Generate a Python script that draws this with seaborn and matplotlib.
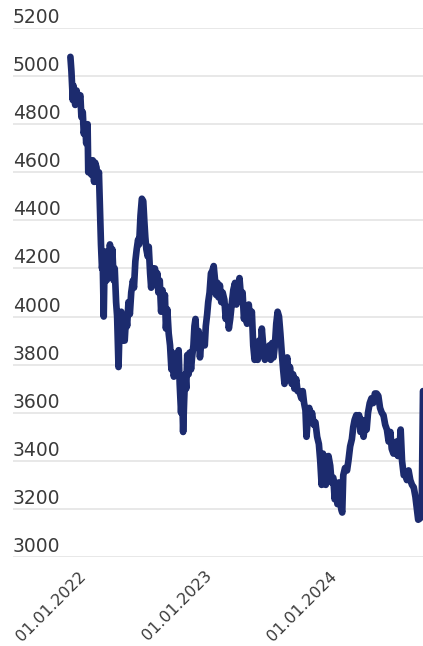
import pandas as pd
import numpy as np
import seaborn as sns
import matplotlib.pyplot as plt
import matplotlib.dates as mdates
from matplotlib.transforms import ScaledTranslation

# values
dates = [
    "2021-12-06", "2021-12-09", "2021-12-13", "2021-12-15", "2021-12-20", "2021-12-24", "2021-12-29",
    "2022-01-04", "2022-01-07", "2022-01-11", "2022-01-14", "2022-01-18", "2022-01-21", "2022-01-25",
    "2022-01-27", "2022-02-01", "2022-02-05", "2022-02-09", "2022-02-13", "2022-02-16", "2022-02-20",
    "2022-02-23", "2022-02-27", "2022-03-02", "2022-03-05", "2022-03-08", "2022-03-10", "2022-03-13",
    "2022-03-15", "2022-03-18", "2022-03-21", "2022-03-24", "2022-03-28", "2022-03-31", "2022-04-04",
    "2022-04-07", "2022-04-11", "2022-04-14", "2022-04-18", "2022-04-21", "2022-04-25", "2022-04-28",
    "2022-05-03", "2022-05-06", "2022-05-10", "2022-05-13", "2022-05-17", "2022-05-20", "2022-05-24",
    "2022-05-28", "2022-06-01", "2022-06-06", "2022-06-09", "2022-06-13", "2022-06-17", "2022-06-21",
    "2022-06-24", "2022-06-28", "2022-07-02", "2022-07-06", "2022-07-09", "2022-07-12", "2022-07-15",
    "2022-07-19", "2022-07-22", "2022-07-26", "2022-07-29", "2022-08-02", "2022-08-05", "2022-08-09",
    "2022-08-12", "2022-08-16", "2022-08-19", "2022-08-23", "2022-08-27", "2022-08-31", "2022-09-03",
    "2022-09-07", "2022-09-10", "2022-09-14", "2022-09-18", "2022-09-22", "2022-09-26", "2022-09-29",
    "2022-10-03", "2022-10-07", "2022-10-11", "2022-10-14", "2022-10-17", "2022-10-20", "2022-10-24",
    "2022-10-27", "2022-10-30", "2022-11-02", "2022-11-05", "2022-11-08", "2022-11-11", "2022-11-15",
    "2022-11-18", "2022-11-22", "2022-11-25", "2022-11-29", "2022-12-02", "2022-12-05", "2022-12-08",
    "2022-12-11", "2022-12-14", "2022-12-18", "2022-12-21", "2022-12-25", "2022-12-28", "2023-01-01",
    "2023-01-04", "2023-01-08", "2023-01-11", "2023-01-15", "2023-01-19", "2023-01-23", "2023-01-27",
    "2023-01-31", "2023-02-03", "2023-02-07", "2023-02-10", "2023-02-14", "2023-02-18", "2023-02-22",
    "2023-02-27", "2023-03-03", "2023-03-08", "2023-03-12", "2023-03-16", "2023-03-21", "2023-03-25",
    "2023-03-30", "2023-04-03", "2023-04-07", "2023-04-12", "2023-04-17", "2023-04-21", "2023-04-25",
    "2023-04-29", "2023-05-04", "2023-05-09", "2023-05-13", "2023-05-18", "2023-05-22", "2023-05-26",
    "2023-05-31", "2023-06-04", "2023-06-08", "2023-06-12", "2023-06-16", "2023-06-20", "2023-06-25",
    "2023-06-29", "2023-07-04", "2023-07-08", "2023-07-12", "2023-07-16", "2023-07-20", "2023-07-24",
    "2023-07-28", "2023-08-01", "2023-08-05", "2023-08-09", "2023-08-13", "2023-08-17", "2023-08-21",
    "2023-08-25", "2023-08-29", "2023-09-02", "2023-09-06", "2023-09-11", "2023-09-15", "2023-09-19",
    "2023-09-24", "2023-09-28", "2023-10-03", "2023-10-09", "2023-10-13", "2023-10-17", "2023-10-21",
    "2023-10-24", "2023-10-28", "2023-11-01", "2023-11-05", "2023-11-09", "2023-11-14", "2023-11-19",
    "2023-11-24", "2023-11-29", "2023-12-03", "2023-12-07", "2023-12-11", "2023-12-15", "2023-12-19",
    "2023-12-23", "2023-12-27", "2024-01-01", "2024-01-05", "2024-01-10", "2024-01-14", "2024-01-18",
    "2024-01-22", "2024-01-26", "2024-01-30", "2024-02-02", "2024-02-05", "2024-02-08", "2024-02-13",
    "2024-02-19", "2024-02-23", "2024-02-28", "2024-03-04", "2024-03-08", "2024-03-12", "2024-03-17",
    "2024-03-21", "2024-03-25", "2024-03-29", "2024-04-03", "2024-04-07", "2024-04-12", "2024-04-16",
    "2024-04-20", "2024-04-25", "2024-04-30", "2024-05-05", "2024-05-10", "2024-05-15", "2024-05-20",
    "2024-05-25", "2024-05-30", "2024-06-04", "2024-06-09", "2024-06-14", "2024-06-19", "2024-06-24",
    "2024-06-28", "2024-07-03", "2024-07-08", "2024-07-12", "2024-07-16", "2024-07-20", "2024-07-24",
    "2024-07-28", "2024-08-02", "2024-08-07", "2024-08-11", "2024-08-16", "2024-08-21", "2024-08-26",
    "2024-08-31", "2024-09-05", "2024-09-10", "2024-09-13", "2024-09-18", "2024-09-23", "2024-09-25",
    "2024-09-27",
]
values = [
    5080, 5020, 4900, 4960, 4880, 4940, 4900,
    4920, 4830, 4850, 4760, 4800, 4720, 4800,
    4600, 4640, 4590, 4650, 4560, 4640, 4620,
    4560, 4600, 4450, 4300, 4200, 4230, 4000,
    4180, 4270, 4150, 4250, 4160, 4300, 4220,
    4280, 4150, 4200, 4060, 4000, 3790, 3950,
    4020, 3900, 3950, 3900, 4000, 3960, 4060,
    4010, 4100, 4150, 4120, 4230, 4280, 4320,
    4300, 4420, 4490, 4480, 4400, 4330, 4280,
    4250, 4290, 4180, 4120, 4200, 4150, 4200,
    4130, 4180, 4100, 4150, 4020, 4110, 4040,
    4090, 3950, 4030, 3930, 3880, 3780, 3850,
    3750, 3800, 3770, 3840, 3860, 3720, 3600,
    3690, 3520, 3650, 3760, 3700, 3840, 3760,
    3850, 3780, 3830, 3880, 3960, 3990, 3900,
    3870, 3940, 3830, 3880, 3890, 3920, 3880,
    3960, 4010, 4060, 4100, 4180, 4190, 4210,
    4150, 4090, 4140, 4080, 4130, 4060, 4100,
    4070, 3990, 4040, 3950, 3990, 4060, 4110,
    4140, 4050, 4100, 4160, 4070, 4100, 3990,
    4030, 3970, 4050, 3980, 4020, 3880, 3820,
    3850, 3820, 3900, 3840, 3950, 3880, 3820,
    3870, 3830, 3880, 3820, 3890, 3830, 3880,
    3970, 4020, 4000, 3930, 3850, 3780, 3720,
    3800, 3830, 3760, 3790, 3720, 3760, 3700,
    3740, 3690, 3690, 3660, 3690, 3640, 3610,
    3500, 3580, 3620, 3560, 3600, 3550, 3560,
    3500, 3470, 3400, 3300, 3430, 3320, 3300,
    3400, 3420, 3380, 3310, 3330, 3240, 3300,
    3220, 3310, 3250, 3200, 3185, 3340, 3370,
    3360, 3400, 3460, 3490, 3540, 3570, 3590,
    3560, 3590, 3520, 3570, 3500, 3560, 3530,
    3600, 3640, 3660, 3640, 3680, 3680, 3670,
    3620, 3600, 3590, 3550, 3530, 3480, 3520,
    3450, 3430, 3460, 3480, 3420, 3440, 3530,
    3400, 3340, 3350, 3320, 3360, 3320, 3300,
    3290, 3250, 3190, 3155, 3160, 3170, 3430,
    3690,
]
y_ticks = [3000, 3200, 3400, 3600, 3800, 4000, 4200, 4400, 4600, 4800, 5000, 5200]
x_ticks = ["2022-01-01", "2023-01-01", "2024-01-01"]

df = pd.DataFrame({"date": pd.to_datetime(dates), "value": values})

sns.set_theme(style="whitegrid")
plt.rcParams["font.family"] = ["DejaVu Sans"]

fig = plt.figure(figsize=(4.23, 6.46), dpi=100)
ax = fig.add_axes([13 / 423, 89 / 646, 410 / 423, 529 / 646])

sns.lineplot(data=df, x="date", y="value", ax=ax, color="#1c2b6e", linewidth=4.8)

ax.set_xlim(pd.Timestamp("2021-06-22"), pd.Timestamp("2024-09-27"))
ax.set_ylim(3000, 5200)
ax.set_yticks(y_ticks)
ax.set_xticks(pd.to_datetime(x_ticks))
ax.xaxis.set_major_formatter(mdates.DateFormatter("%d.%m.%Y"))

ax.set_xlabel("")
ax.set_ylabel("")
ax.set_facecolor("white")
for s in ax.spines.values():
    s.set_visible(False)
ax.grid(axis="x", visible=False)
ax.grid(axis="y", color="#e6e6e6", linewidth=1.3)

text_color = "#3a3a3a"
ax.tick_params(axis="y", length=0, pad=0, labelsize=13.5, labelcolor=text_color)
ax.tick_params(axis="x", length=0, pad=12, labelsize=11.5, labelcolor=text_color)

# y labels sit on top of the grid lines, left aligned
offset = ScaledTranslation(0, 3.6 / 72, fig.dpi_scale_trans)
for lab in ax.get_yticklabels():
    lab.set_ha("left")
    lab.set_va("baseline")
    lab.set_transform(lab.get_transform() + offset)

xoff = ScaledTranslation(3 / 72, 0, fig.dpi_scale_trans)
for lab in ax.get_xticklabels():
    lab.set_rotation(45)
    lab.set_ha("right")
    lab.set_va("center")
    lab.set_rotation_mode("anchor")
    lab.set_transform(lab.get_transform() + xoff)

fig.savefig("out.png", dpi=100)
